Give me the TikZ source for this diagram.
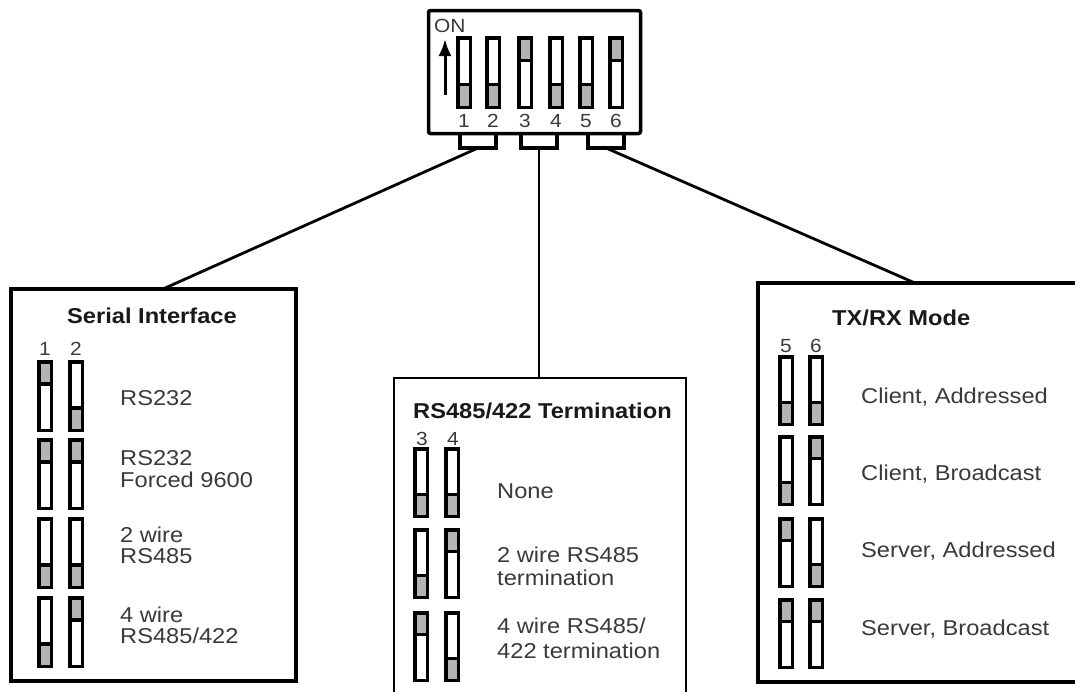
\documentclass[tikz,border=0pt]{standalone}
\usepackage{fontspec}
\setmainfont{Liberation Sans}[FakeStretch=1.1]
\usetikzlibrary{arrows.meta}
\definecolor{knobgrey}{HTML}{B4B4B4}
\definecolor{txtgrey}{HTML}{3A3A3A}
\newcommand\swon[3]{% x (outer left), y (outer top), h (outer height): grey knob at top
  \fill[knobgrey] (#1+1.75,#2+1.75) rectangle (#1+14.25,#2+#3/3);
  \draw[swline] (#1+1.75,#2+1.75) rectangle (#1+14.25,#2+#3-1.75);
  \draw[swline] (#1+1.75,#2+#3/3) -- (#1+14.25,#2+#3/3);}
\newcommand\swoff[3]{% grey knob at bottom
  \fill[knobgrey] (#1+1.75,#2+#3*2/3) rectangle (#1+14.25,#2+#3-1.75);
  \draw[swline] (#1+1.75,#2+1.75) rectangle (#1+14.25,#2+#3-1.75);
  \draw[swline] (#1+1.75,#2+#3*2/3) -- (#1+14.25,#2+#3*2/3);}
\begin{document}
\begin{tikzpicture}[x=1pt,y=-1pt,
  swline/.style={line width=3.5pt},
  frame/.style={line width=3.2pt},
  bracket/.style={line width=3.5pt},
  wire/.style={line width=2.8pt},
  txt/.style={anchor=base west,inner sep=0pt,text=txtgrey,font=\fontsize{21.5}{24}\selectfont},
  ttl/.style={anchor=base west,inner sep=0pt,text=black!90,font=\fontsize{21.5}{24}\selectfont\bfseries},
  num/.style={anchor=base,inner sep=0pt,text=txtgrey,font=\fontsize{19}{21}\selectfont}]
\useasboundingbox (0,0) rectangle (1075,691);
\fill[white] (0,0) rectangle (1075,691);

% ---- DIP switch block ----
\draw[frame,line width=3.5pt,rounded corners=2pt] (428.5,10.5) rectangle (640.5,133.5);
\node[num,anchor=base west] (on) at (434,32) {ON};
\draw[line width=3pt,-{Latex[length=17pt,width=13pt]}] (445,95) -- (445,39);
\swoff{456}{36}{73}
\swoff{485}{36}{73}
\swon{517}{36}{73}
\swoff{548}{36}{73}
\swoff{578}{36}{73}
\swon{608}{36}{73}
\node[num] (d1) at (464,127) {1};
\node[num] (d2) at (493,127) {2};
\node[num] (d3) at (525,127) {3};
\node[num] (d4) at (556,127) {4};
\node[num] (d5) at (586,127) {5};
\node[num] (d6) at (616,127) {6};

% brackets
\draw[bracket] (460,134) -- (460,148) -- (496,148) -- (496,134);
\draw[bracket] (521,134) -- (521,148) -- (557,148) -- (557,134);
\draw[bracket] (588,134) -- (588,148) -- (624,148) -- (624,134);
\coordinate (b1) at (478,148);
\coordinate (b2) at (539,148);
\coordinate (b3) at (606,148);

% ---- Serial Interface panel ----
\draw[frame] (11,289) rectangle (296,681);
\coordinate (p1) at (163,289);
\node[ttl] (t1) at (67,323) {Serial Interface};
\node[num] (n1) at (45,355) {1};
\node[num] (n2) at (76,355) {2};
\swon{37}{360}{72}  \swoff{68}{360}{72}
\swon{37}{438}{72}  \swon{68}{438}{72}
\swoff{37}{517}{72} \swoff{68}{517}{72}
\swoff{37}{596}{72} \swon{68}{596}{72}
\node[txt] (s1) at (120,405) {RS232};
\node[txt] (s2a) at (120,465) {RS232};
\node[txt] (s2b) at (120,487) {Forced 9600};
\node[txt] (s3a) at (120,542) {2 wire};
\node[txt] (s3b) at (120,563) {RS485};
\node[txt] (s4a) at (120,622) {4 wire};
\node[txt] (s4b) at (120,643) {RS485/422};

% ---- RS485/422 Termination panel ----
\draw[line width=2.6pt] (394,695) -- (394,378) -- (686,378) -- (686,695);
\coordinate (p2) at (539,378);
\node[ttl] (t2) at (413,418) {RS485/422 Termination};
\node[num] (n3) at (422,445) {3};
\node[num] (n4) at (453,445) {4};
\swoff{413}{447}{71} \swoff{444}{447}{71}
\swoff{413}{528}{71} \swon{444}{528}{71}
\swon{413}{611}{71}  \swoff{444}{611}{71}
\node[txt] (m1) at (497,498) {None};
\node[txt] (m2a) at (497,562) {2 wire RS485};
\node[txt] (m2b) at (497,585) {termination};
\node[txt] (m3a) at (497,633) {4 wire RS485/};
\node[txt] (m3b) at (497,658) {422 termination};

% ---- TX/RX Mode panel ----
\draw[frame] (1080,283) -- (758,283) -- (758,682) -- (1080,682);
\coordinate (p3) at (915,283);
\node[ttl] (t3) at (832,325) {TX/RX Mode};
\node[num] (n5) at (786,352) {5};
\node[num] (n6) at (816,352) {6};
\swoff{778}{355}{71} \swoff{808}{355}{71}
\swoff{778}{435}{71} \swon{808}{435}{71}
\swon{778}{517}{71}  \swoff{808}{517}{71}
\swon{778}{598}{71}  \swon{808}{598}{71}
\node[txt] (r1) at (861,403) {Client, Addressed};
\node[txt] (r2) at (861,480) {Client, Broadcast};
\node[txt] (r3) at (861,557) {Server, Addressed};
\node[txt] (r4) at (861,635) {Server, Broadcast};

% ---- connectors ----
\draw[wire] (b1) -- (p1);
\draw[wire] (b2) -- (p2);
\draw[wire] (b3) -- (p3);
\end{tikzpicture}
\end{document}
